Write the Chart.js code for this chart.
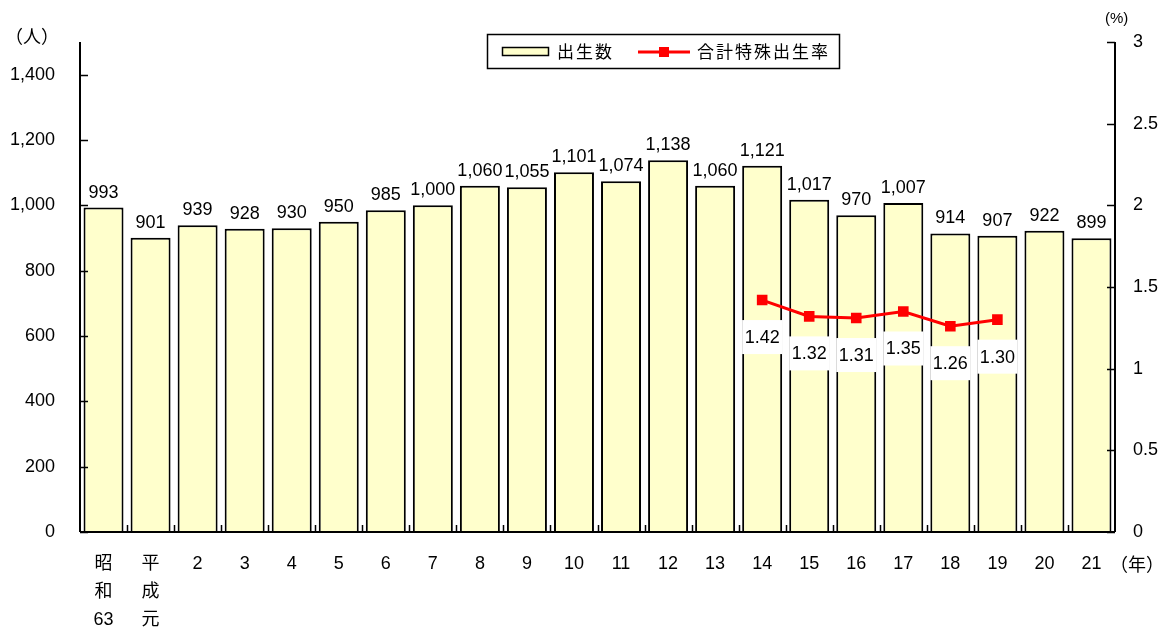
<!DOCTYPE html>
<html>
<head>
<meta charset="utf-8">
<script src="https://cdn.jsdelivr.net/npm/chart.js@4.4.1/dist/chart.umd.min.js"></script>
<style>
  html, body { margin: 0; padding: 0; background: #fff; }
  #wrap { width: 1165px; height: 628px; }
</style>
</head>
<body>
<div id="wrap"><canvas id="c" width="1165" height="628"></canvas></div>
<script>
// ---- data ----
const categories = [['昭','和','63'], ['平','成','元'], '2','3','4','5','6','7','8','9','10','11','12','13','14','15','16','17','18','19','20','21'];
const births = [993, 901, 939, 928, 930, 950, 985, 1000, 1060, 1055, 1101, 1074, 1138, 1060, 1121, 1017, 970, 1007, 914, 907, 922, 899];
const fertility = [null, null, null, null, null, null, null, null, null, null, null, null, null, null, 1.42, 1.32, 1.31, 1.35, 1.26, 1.30, null, null];
const leftTicks = [0, 200, 400, 600, 800, 1000, 1200, 1400];
const rightTicks = [0, 0.5, 1, 1.5, 2, 2.5, 3];
const seriesNames = ['出生数', '合計特殊出生率'];

const FONT = '"Liberation Sans", "Noto Sans CJK JP", sans-serif';
const CJK = '"Noto Sans CJK JP", sans-serif';

const fmtComma = v => v.toLocaleString('en-US');
const fmtRight = v => (Number.isInteger(v) ? String(v) : v.toFixed(1));

const decor = {
  id: 'decor',
  afterDatasetsDraw(chart) {
    const ctx = chart.ctx;
    const ca = chart.chartArea;
    const x = chart.scales.x, y = chart.scales.y, y1 = chart.scales.y1;
    ctx.save();
    // axes lines
    ctx.strokeStyle = '#000';
    ctx.lineWidth = 2;
    ctx.beginPath();
    ctx.moveTo(ca.left, ca.top); ctx.lineTo(ca.left, ca.bottom);
    ctx.moveTo(ca.right, ca.top); ctx.lineTo(ca.right, ca.bottom);
    ctx.moveTo(ca.left, ca.bottom); ctx.lineTo(ca.right, ca.bottom);
    ctx.stroke();
    // tick marks (inside)
    ctx.lineWidth = 1.5;
    ctx.beginPath();
    leftTicks.forEach(v => { const py = Math.round(y.getPixelForValue(v)) + 0.5; ctx.moveTo(ca.left, py); ctx.lineTo(ca.left + 8, py); });
    rightTicks.forEach(v => { const py = Math.round(y1.getPixelForValue(v)) + 0.5; ctx.moveTo(ca.right, py); ctx.lineTo(ca.right - 8, py); });
    const step = (ca.right - ca.left) / categories.length;
    for (let i = 1; i < categories.length; i++) {
      const px = Math.round(ca.left + step * i) + 0.5;
      ctx.moveTo(px, ca.bottom); ctx.lineTo(px, ca.bottom - 7);
    }
    ctx.stroke();

    // bar value labels
    const barMeta = chart.getDatasetMeta(1);
    ctx.fillStyle = '#000';
    ctx.font = '18px ' + FONT;
    ctx.textAlign = 'center';
    ctx.textBaseline = 'middle';
    barMeta.data.forEach((el, i) => {
      ctx.fillText(fmtComma(births[i]), el.x, el.y - 15);
    });

    // fertility labels in white boxes
    const lineMeta = chart.getDatasetMeta(0);
    lineMeta.data.forEach((el, i) => {
      if (fertility[i] === null) return;
      const cx = el.x, cy = el.y + 37;
      ctx.fillStyle = '#fff';
      ctx.fillRect(cx - 20, cy - 17, 40, 34);
      ctx.fillStyle = '#000';
      ctx.fillText(fertility[i].toFixed(2), cx, cy + 1);
    });

    // legend
    ctx.lineWidth = 1.5;
    ctx.strokeStyle = '#000';
    ctx.fillStyle = '#fff';
    ctx.fillRect(487, 34, 353, 35);
    ctx.strokeRect(487.5, 34.5, 352, 34);
    ctx.fillStyle = '#FFFFCC';
    ctx.fillRect(502, 47, 47, 9);
    ctx.lineWidth = 1.5;
    ctx.strokeRect(502.5, 47.5, 46, 8);
    ctx.strokeStyle = '#FF0000';
    ctx.lineWidth = 3;
    ctx.beginPath(); ctx.moveTo(638, 52); ctx.lineTo(690, 52); ctx.stroke();
    ctx.fillStyle = '#FF0000';
    ctx.fillRect(659, 47, 10, 10);
    ctx.fillStyle = '#000';
    ctx.font = '17px ' + CJK;
    ctx.textAlign = 'left';
    const drawSpaced = (s, sx, sy, sp) => { [...s].forEach((ch, k) => ctx.fillText(ch, sx + k * sp, sy)); };
    drawSpaced(seriesNames[0], 557, 52, 19);
    drawSpaced(seriesNames[1], 697, 52, 19);

    // axis titles
    ctx.font = '18px ' + CJK;
    ctx.textAlign = 'left';
    ctx.fillText('（人）', 5, 36);
    ctx.fillText('（年）', 1110, 564);
    ctx.font = '15px ' + FONT;
    ctx.fillText('(%)', 1105, 19);
    ctx.restore();
  }
};

new Chart(document.getElementById('c'), {
  data: {
    labels: categories,
    datasets: [
      {
        type: 'line',
        label: seriesNames[1],
        data: fertility,
        yAxisID: 'y1',
        order: 0,
        borderColor: '#FF0000',
        backgroundColor: '#FF0000',
        borderWidth: 3,
        pointStyle: 'rect',
        pointRadius: 7.5,
        pointBorderWidth: 0,
        pointBackgroundColor: '#FF0000',
        spanGaps: false,
        tension: 0
      },
      {
        type: 'bar',
        label: seriesNames[0],
        data: births,
        yAxisID: 'y',
        order: 1,
        backgroundColor: '#FFFFCC',
        borderColor: '#000',
        borderWidth: 2,
        barPercentage: 0.85,
        categoryPercentage: 1.0
      }
    ]
  },
  options: {
    responsive: false,
    animation: false,
    layout: { padding: { top: 42, left: 0, right: 0, bottom: 0 } },
    plugins: { legend: { display: false }, tooltip: { enabled: false } },
    scales: {
      x: {
        grid: { display: false, drawTicks: false },
        border: { display: false },
        ticks: {
          color: '#000',
          font: { family: FONT, size: 18, lineHeight: 1.55 },
          padding: 18,
          maxRotation: 0,
          autoSkip: false
        },
        afterFit(s) { s.height = 96; }
      },
      y: {
        position: 'left',
        min: 0, max: 1500,
        grid: { display: false, drawTicks: false },
        border: { display: false },
        afterBuildTicks(s) { s.ticks = leftTicks.map(v => ({ value: v })); },
        ticks: {
          color: '#000',
          font: { family: FONT, size: 18 },
          padding: 25,
          callback: v => fmtComma(v)
        },
        afterFit(s) { s.width = 80; }
      },
      y1: {
        position: 'right',
        min: 0, max: 3,
        grid: { display: false, drawTicks: false },
        border: { display: false },
        afterBuildTicks(s) { s.ticks = rightTicks.map(v => ({ value: v })); },
        ticks: {
          color: '#000',
          font: { family: FONT, size: 18 },
          padding: 18,
          callback: v => fmtRight(v)
        },
        afterFit(s) { s.width = 50; }
      }
    }
  },
  plugins: [decor]
});
</script>
</body>
</html>
